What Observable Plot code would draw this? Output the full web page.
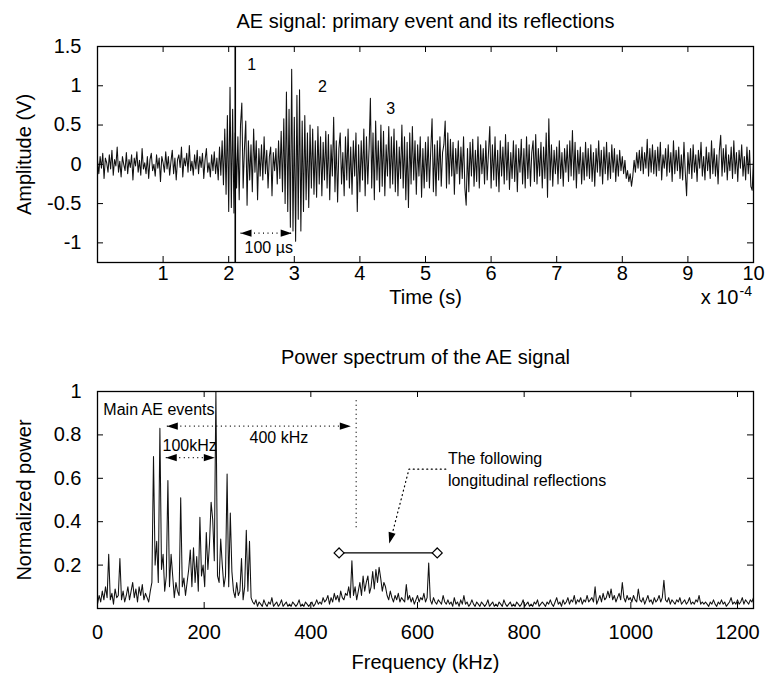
<!DOCTYPE html>
<html><head><meta charset="utf-8">
<script src="https://cdn.jsdelivr.net/npm/d3@7"></script>
<script src="https://cdn.jsdelivr.net/npm/@observablehq/plot@0.6"></script>
<style>
body{margin:0;background:#fff;}
#chart{width:767px;}
#chart svg{display:block;overflow:visible;}
</style></head><body><div id="chart"></div>
<script>
const FONT = "'Liberation Sans', Arial, Helvetica, sans-serif";

// ---- AE signal (amplitude in V), sampled every 0.02 ×10^-4 s from 0 to 10 ----
const signalStep = 0.02;
const signalValues = [
0.05,-0.12,0.10,-0.05,0.14,-0.18,0.08,0.02,-0.10,0.12,-0.06,0.18,-0.14,0.06,-0.02,0.22,-0.10,0.04,-0.16,0.10,0.00,-0.08,0.15,-0.12,0.06,
-0.04,0.12,-0.20,0.08,-0.02,0.16,-0.10,0.05,-0.14,0.20,-0.06,0.02,-0.12,0.10,-0.18,0.06,0.14,-0.08,0.00,-0.15,0.12,-0.05,0.08,-0.22,0.10,
0.02,-0.10,0.16,-0.06,0.10,-0.14,0.04,0.18,-0.12,0.08,-0.20,0.06,0.12,-0.04,0.22,-0.16,0.08,-0.02,0.14,-0.10,0.24,-0.08,0.04,-0.14,0.12,
-0.06,0.18,-0.12,0.10,-0.04,0.14,-0.18,0.06,0.20,-0.10,0.02,-0.16,0.12,-0.08,0.16,-0.12,0.08,-0.20,0.22,-0.14,0.30,-0.26,0.45,-0.38,0.62,
-0.60,0.98,-0.55,0.70,-0.62,0.40,-0.30,0.35,-0.45,0.50,0.78,-0.30,0.20,0.55,-0.52,0.30,-0.20,0.25,-0.35,0.45,-0.10,0.30,-0.45,0.20,-0.15,
0.25,-0.20,0.35,-0.12,0.18,-0.30,0.10,0.22,-0.40,0.15,-0.08,0.20,-0.25,0.30,-0.18,0.42,-0.35,0.58,-0.50,0.92,-0.60,0.70,-0.80,1.21,-0.85,
0.60,-0.98,0.88,-0.70,0.95,-0.85,0.55,-0.60,0.62,-0.45,0.40,-0.55,0.50,-0.30,0.45,-0.38,0.30,-0.42,0.48,-0.25,0.35,-0.40,0.28,-0.20,0.42,
-0.30,0.38,-0.45,0.25,-0.15,0.60,-0.35,0.30,-0.48,0.20,0.40,-0.25,0.15,-0.40,0.35,-0.20,0.45,-0.30,0.22,-0.38,0.30,-0.15,0.40,-0.60,0.25,
-0.35,0.30,-0.20,0.45,-0.40,0.35,-0.25,0.20,0.84,-0.30,0.40,-0.45,0.55,-0.20,0.30,-0.35,0.50,-0.28,0.42,-0.40,0.25,-0.15,0.48,-0.30,0.35,
-0.25,0.45,-0.35,0.30,-0.40,0.22,-0.18,0.50,-0.30,0.35,-0.45,0.28,-0.55,0.40,-0.25,0.48,-0.20,0.30,-0.38,0.25,-0.15,0.35,-0.42,0.20,-0.30,
0.28,-0.22,0.35,-0.30,0.18,0.58,-0.35,0.25,-0.40,0.30,-0.20,0.35,-0.28,0.15,0.25,0.55,-0.30,0.40,-0.25,0.32,-0.15,0.28,-0.38,0.20,-0.12,
0.30,-0.25,0.22,-0.18,0.35,-0.30,-0.52,0.20,-0.35,0.28,-0.15,0.32,-0.28,0.18,-0.22,0.35,-0.30,0.25,-0.12,0.20,-0.25,0.30,-0.20,0.15,0.48,
-0.30,0.25,-0.20,0.35,-0.28,0.18,-0.35,0.30,-0.15,0.22,-0.25,0.38,-0.20,0.28,-0.32,0.15,-0.18,0.30,-0.22,0.25,-0.35,0.20,-0.10,0.32,-0.25,
0.20,-0.30,0.35,-0.18,0.25,-0.28,0.15,0.30,-0.22,0.38,-0.25,0.20,-0.15,0.28,-0.30,0.22,-0.18,0.40,-0.42,0.58,-0.20,0.25,-0.28,0.18,-0.12,
0.22,-0.25,0.30,-0.18,0.15,-0.28,0.20,-0.10,0.25,-0.22,0.30,-0.15,0.43,-0.20,0.28,-0.30,0.18,-0.12,0.22,-0.25,0.15,-0.20,0.28,-0.15,0.20,
-0.18,0.25,-0.22,0.15,-0.28,0.20,-0.10,0.30,-0.15,0.18,-0.25,0.22,-0.12,0.28,-0.20,0.15,-0.18,0.25,-0.10,0.20,-0.22,0.12,-0.15,0.18,-0.08,
0.10,-0.12,0.05,-0.18,-0.08,-0.22,-0.12,-0.28,-0.15,0.05,-0.10,0.15,-0.05,0.18,-0.08,0.22,-0.12,0.15,-0.05,0.32,-0.15,0.20,-0.10,0.25,-0.12,
0.18,-0.15,0.22,-0.08,0.28,-0.20,0.12,-0.05,0.20,-0.15,0.25,-0.10,0.15,-0.22,0.30,-0.12,0.18,-0.08,0.22,-0.18,0.12,-0.20,0.28,-0.10,-0.40,
0.15,-0.12,0.20,-0.18,0.25,-0.10,0.12,-0.22,0.18,-0.05,0.28,-0.15,0.10,-0.20,0.22,-0.08,0.15,-0.18,0.30,-0.12,0.20,-0.15,0.12,-0.25,0.18,
0.37,-0.15,0.20,-0.10,0.25,-0.20,0.12,-0.08,0.22,-0.18,0.30,-0.12,0.15,-0.22,0.18,-0.05,0.25,-0.15,0.10,-0.20,0.22,-0.12,0.18,-0.28,-0.33,
0.05
];
const onsetTime = [2.1];

// ---- Power spectrum (normalized), every 3 kHz from 0 to 1230 kHz ----
const spectrumStep = 3;
const spectrumValues = [
0.02,0.06,0.03,0.08,0.04,0.10,0.05,0.25,0.04,0.07,0.02,0.09,0.05,0.06,0.23,0.04,0.08,0.03,0.06,0.10,
0.04,0.08,0.12,0.05,0.09,0.03,0.10,0.06,0.11,0.04,0.07,0.05,0.03,0.08,0.12,0.70,0.20,0.31,0.12,0.83,
0.18,0.25,0.08,0.15,0.59,0.10,0.25,0.15,0.05,0.12,0.08,0.06,0.51,0.10,0.14,0.06,0.12,0.18,0.27,0.10,
0.28,0.12,0.24,0.08,0.42,0.15,0.20,0.10,0.35,0.18,0.30,0.49,0.41,0.22,1.00,0.15,0.12,0.32,0.20,0.10,
0.15,0.62,0.10,0.44,0.17,0.08,0.05,0.12,0.06,0.08,0.23,0.04,0.10,0.36,0.08,0.31,0.05,0.03,0.02,0.04,
0.01,0.03,0.02,0.01,0.04,0.02,0.01,0.03,0.02,0.05,0.01,0.02,0.03,0.01,0.02,0.04,0.01,0.02,0.03,0.01,
0.02,0.01,0.03,0.02,0.01,0.02,0.04,0.01,0.02,0.01,0.03,0.02,0.01,0.02,0.03,0.01,0.02,0.04,0.02,0.03,
0.02,0.05,0.03,0.04,0.06,0.02,0.05,0.03,0.07,0.04,0.06,0.03,0.08,0.05,0.04,0.07,0.06,0.10,0.05,0.22,
0.06,0.10,0.04,0.08,0.12,0.06,0.15,0.08,0.12,0.15,0.07,0.10,0.17,0.09,0.18,0.12,0.19,0.14,0.08,0.12,
0.10,0.06,0.04,0.08,0.05,0.03,0.06,0.04,0.07,0.03,0.05,0.04,0.03,0.11,0.04,0.06,0.03,0.05,0.02,0.04,
0.06,0.03,0.05,0.04,0.07,0.03,0.05,0.21,0.04,0.02,0.05,0.03,0.02,0.04,0.03,0.02,0.06,0.03,0.02,0.04,
0.02,0.03,0.01,0.05,0.02,0.03,0.01,0.04,0.02,0.06,0.02,0.03,0.01,0.02,0.04,0.02,0.01,0.03,0.02,0.01,
0.03,0.02,0.01,0.02,0.04,0.01,0.02,0.03,0.01,0.02,0.01,0.03,0.02,0.01,0.04,0.02,0.01,0.02,0.03,0.01,
0.02,0.01,0.03,0.02,0.01,0.02,0.04,0.01,0.02,0.03,0.01,0.02,0.01,0.03,0.02,0.04,0.01,0.02,0.03,0.02,
0.01,0.03,0.02,0.04,0.02,0.01,0.03,0.05,0.02,0.03,0.01,0.04,0.02,0.03,0.05,0.02,0.04,0.03,0.06,0.02,
0.04,0.03,0.05,0.02,0.04,0.03,0.06,0.03,0.04,0.05,0.03,0.10,0.02,0.04,0.06,0.03,0.07,0.04,0.05,0.08,
0.05,0.09,0.04,0.06,0.03,0.05,0.07,0.04,0.12,0.05,0.03,0.06,0.04,0.05,0.03,0.06,0.04,0.03,0.09,0.04,
0.03,0.05,0.02,0.04,0.06,0.03,0.04,0.02,0.05,0.03,0.04,0.06,0.03,0.05,0.13,0.04,0.03,0.05,0.02,0.04,
0.03,0.02,0.04,0.03,0.05,0.02,0.03,0.04,0.02,0.03,0.05,0.02,0.03,0.02,0.04,0.03,0.06,0.02,0.03,0.02,
0.03,0.02,0.01,0.03,0.02,0.04,0.02,0.01,0.03,0.02,0.04,0.02,0.03,0.01,0.02,0.03,0.05,0.02,0.03,0.02,
0.04,0.02,0.03,0.05,0.02,0.04,0.03,0.02,0.04,0.03,0.05
];

// ---- Ticks ----
const timeTickLabels = [1,2,3,4,5,6,7,8,9,10];
const ampTickLabels = [1.5,1,0.5,0,-0.5,-1];
const freqTickLabels = [0,200,400,600,800,1000,1200];
const powerTickLabels = [0.2,0.4,0.6,0.8,1];

// ---- Annotations ----
const eventNumbers = [
  {t: 2.35, v: 1.27, label: "1"},
  {t: 3.43, v: 0.99, label: "2"},
  {t: 4.47, v: 0.71, label: "3"}
];
const spanArrowTop = [{t1: 2.18, t2: 2.96, v: -0.877, label: "100 µs", tl: 2.61, vl: -1.067}];
const spanArrowsBottom = [
  {f1: 130, f2: 475, p: 0.84},
  {f1: 128, f2: 220, p: 0.695}
];
const bottomTexts = [
  {f: 11, p: 0.917, label: "Main AE events"},
  {f: 285, p: 0.786, label: "400 kHz"},
  {f: 122, p: 0.75, label: "100kHz"},
  {f: 657, p: 0.69, label: "The following"},
  {f: 657, p: 0.59, label: "longitudinal reflections"}
];
const markerLine = [{f: 485, p1: 0.96, p2: 0.372}];
const reflectionBand = [{f: 453, p: 0.256}, {f: 637, p: 0.256}];
const pointerPath = [{f: 653, p: 0.642}, {f: 584, p: 0.642}, {f: 549, p: 0.31}];
const pointerTip = [{f: 547, p: 0.30}];

const signal = signalValues.map((v, i) => ({t: +(i * signalStep).toFixed(2), v}));
const spectrum = spectrumValues.map((p, i) => ({f: i * spectrumStep, p}));

// filled arrow head pointing right, tip at origin
const head = {draw(ctx) { ctx.moveTo(0, 0); ctx.lineTo(-11, -3.6); ctx.lineTo(-11, 3.6); ctx.closePath(); }};

const TOP_H = 216, W_F = 656, BOT_H = 217;

const topPlot = Plot.plot({
  width: 767, height: 340,
  marginTop: 46, marginBottom: 78, marginLeft: 97, marginRight: 14,
  x: {domain: [0, 10], axis: null},
  y: {domain: [-1.25, 1.5], axis: null},
  style: {fontFamily: FONT, fontSize: "20px", color: "black", background: "white", overflow: "visible"},
  marks: [
    Plot.line(signal, {x: "t", y: "v", stroke: "#111", strokeWidth: 1.05, clip: true}),
    Plot.ruleX(onsetTime, {stroke: "black", strokeWidth: 1.6}),
    Plot.tickX(timeTickLabels.slice(0, 9), {x: d => d, insetTop: TOP_H - 6, stroke: "black"}),
    Plot.tickX(timeTickLabels.slice(0, 9), {x: d => d, insetBottom: TOP_H - 6, stroke: "black"}),
    Plot.tickY(ampTickLabels.slice(1), {y: d => d, insetRight: W_F - 6, stroke: "black"}),
    Plot.tickY(ampTickLabels.slice(1), {y: d => d, insetLeft: W_F - 6, stroke: "black"}),
    Plot.frame({stroke: "black", strokeWidth: 1.3}),
    Plot.text(timeTickLabels, {x: d => d, frameAnchor: "bottom", dy: 17, text: d => String(d), fontSize: 20}),
    Plot.text(ampTickLabels, {y: d => d, frameAnchor: "left", dx: -16, textAnchor: "end", text: d => String(d), fontSize: 20}),
    Plot.text(["Time (s)"], {frameAnchor: "bottom", dy: 41, fontSize: 20}),
    Plot.text(["x 10"], {frameAnchor: "bottom-right", dx: -15, dy: 41, textAnchor: "end", fontSize: 20}),
    Plot.text(["-4"], {frameAnchor: "bottom-right", dx: -14, dy: 33, textAnchor: "start", fontSize: 14}),
    Plot.text(["Amplitude (V)"], {frameAnchor: "left", dx: -73, rotate: -90, textAnchor: "middle", fontSize: 20}),
    Plot.text(["AE signal: primary event and its reflections"], {frameAnchor: "top", dy: -33, fontSize: 20}),
    Plot.text(eventNumbers, {x: "t", y: "v", text: "label", fontSize: 16}),
    Plot.link(spanArrowTop, {x1: "t1", x2: "t2", y1: "v", y2: "v", stroke: "black", strokeWidth: 1.2, strokeDasharray: "1,3.5"}),
    Plot.dot(spanArrowTop, {x: "t2", y: "v", symbol: head, fill: "black", stroke: "none", r: 4}),
    Plot.dot(spanArrowTop, {x: "t1", y: "v", symbol: head, fill: "black", stroke: "none", r: 4, rotate: 180}),
    Plot.text(spanArrowTop, {x: "tl", y: "vl", text: "label", fontSize: 16})
  ]
});

const bottomPlot = Plot.plot({
  width: 767, height: 340,
  marginTop: 51, marginBottom: 72, marginLeft: 97, marginRight: 14,
  x: {domain: [0, 1230], axis: null},
  y: {domain: [0, 1], axis: null},
  style: {fontFamily: FONT, fontSize: "20px", color: "black", background: "white", overflow: "visible"},
  marks: [
    Plot.line(spectrum, {x: "f", y: "p", stroke: "#111", strokeWidth: 1.05, clip: true}),
    Plot.tickX(freqTickLabels.slice(1), {x: d => d, insetTop: BOT_H - 6, stroke: "black"}),
    Plot.tickX(freqTickLabels.slice(1), {x: d => d, insetBottom: BOT_H - 6, stroke: "black"}),
    Plot.tickY(powerTickLabels.slice(0, 4), {y: d => d, insetRight: W_F - 6, stroke: "black"}),
    Plot.tickY(powerTickLabels.slice(0, 4), {y: d => d, insetLeft: W_F - 6, stroke: "black"}),
    Plot.frame({stroke: "black", strokeWidth: 1.3}),
    Plot.text(freqTickLabels, {x: d => d, frameAnchor: "bottom", dy: 30, text: d => String(d), fontSize: 20}),
    Plot.text(powerTickLabels, {y: d => d, frameAnchor: "left", dx: -16, textAnchor: "end", text: d => String(d), fontSize: 20}),
    Plot.text(["Frequency (kHz)"], {frameAnchor: "bottom", dy: 60, fontSize: 20}),
    Plot.text(["Normalized power"], {frameAnchor: "left", dx: -73, rotate: -90, textAnchor: "middle", fontSize: 20}),
    Plot.text(["Power spectrum of the AE signal"], {frameAnchor: "top", dy: -42, fontSize: 20}),
    Plot.text(bottomTexts, {x: "f", y: "p", text: "label", textAnchor: "start", fontSize: 16}),
    Plot.link(spanArrowsBottom, {x1: "f1", x2: "f2", y1: "p", y2: "p", stroke: "black", strokeWidth: 1.2, strokeDasharray: "1,3.5"}),
    Plot.dot(spanArrowsBottom, {x: "f2", y: "p", symbol: head, fill: "black", stroke: "none", r: 4}),
    Plot.dot(spanArrowsBottom, {x: "f1", y: "p", symbol: head, fill: "black", stroke: "none", r: 4, rotate: 180}),
    Plot.link(markerLine, {x1: "f", x2: "f", y1: "p1", y2: "p2", stroke: "black", strokeWidth: 1.2, strokeDasharray: "1,3.5"}),
    Plot.line(reflectionBand, {x: "f", y: "p", stroke: "black", strokeWidth: 1.2}),
    Plot.dot(reflectionBand, {x: "f", y: "p", symbol: "diamond2", r: 4.5, fill: "white", stroke: "black", strokeWidth: 1.2}),
    Plot.line(pointerPath, {x: "f", y: "p", stroke: "black", strokeWidth: 1.2, strokeDasharray: "1,3.5"}),
    Plot.dot(pointerTip, {x: "f", y: "p", symbol: head, fill: "black", stroke: "none", r: 4, rotate: 105})
  ]
});

const chart = document.getElementById("chart");
chart.appendChild(topPlot);
chart.appendChild(bottomPlot);
</script>
</body></html>
